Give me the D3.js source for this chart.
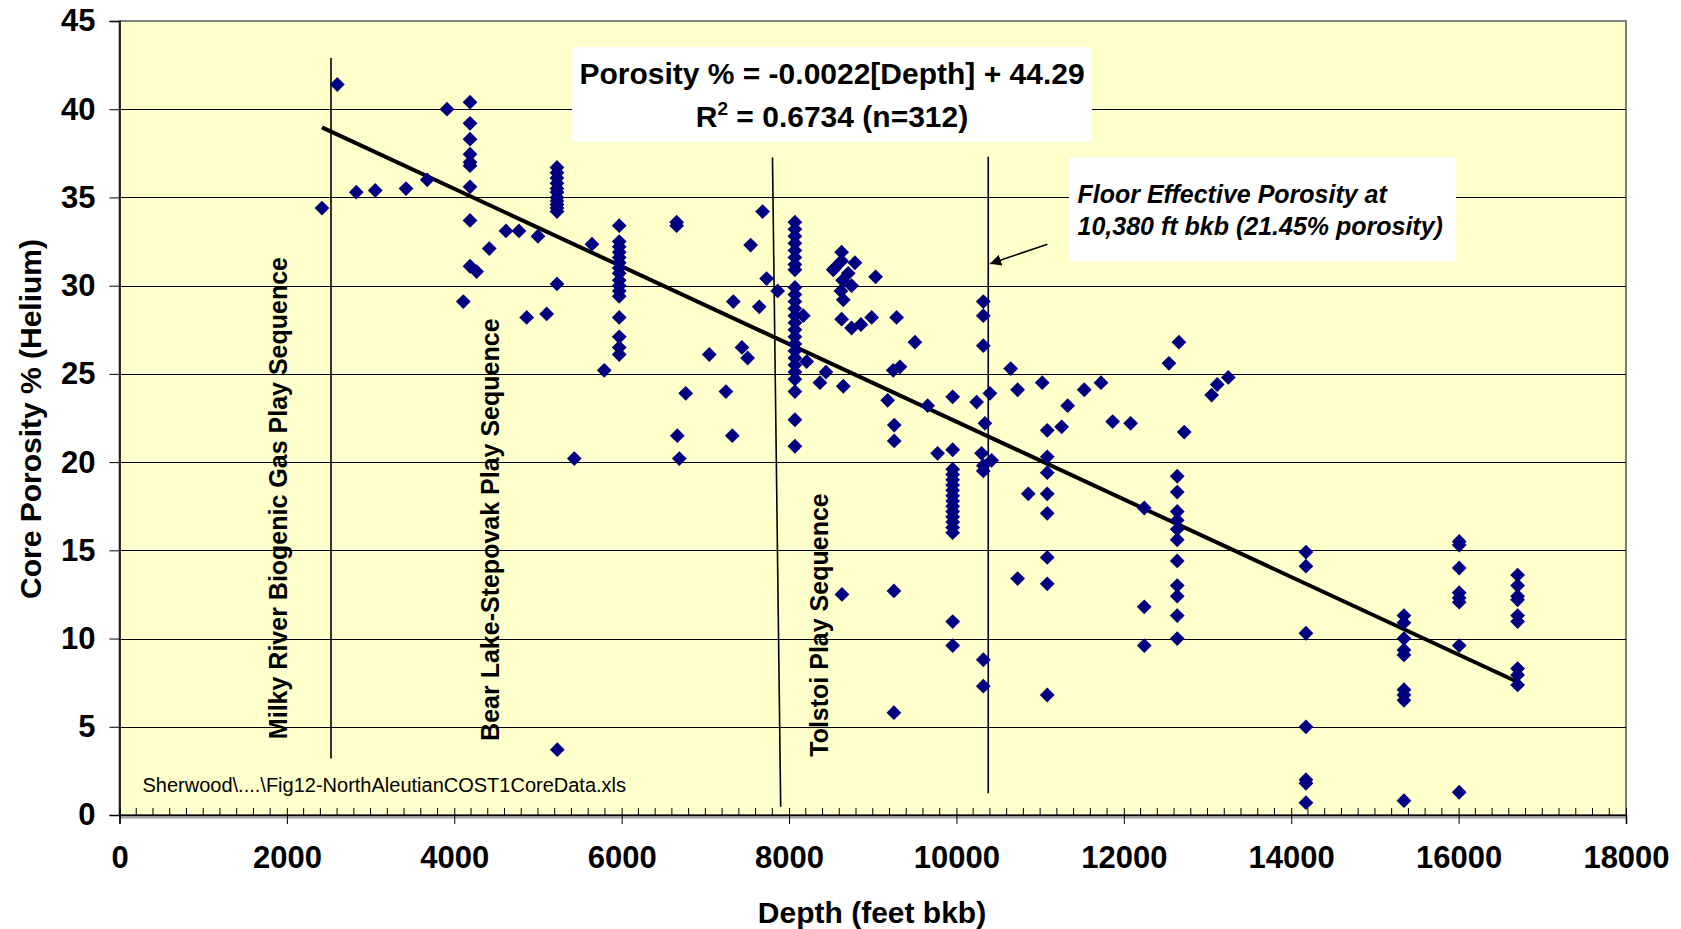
<!DOCTYPE html>
<html>
<head>
<meta charset="utf-8">
<script src="https://cdn.jsdelivr.net/npm/d3@7"></script>
<style>
  html, body { margin: 0; padding: 0; background: #ffffff; }
  svg { display: block; }
  text { font-family: "Liberation Sans", Arial, sans-serif; }
</style>
</head>
<body>
<svg id="chart" width="1681" height="929"></svg>
<script>
// Core porosity (helium) vs depth, North Aleutian COST #1 well
const depthFt = [
  2419, 2602, 2829, 3056, 3423, 3677, 3913,
  4188, 4188, 4188, 4188, 4188, 4188, 4188, 4188, 4188, 4267, 4108,
  4418, 4618, 4773, 5000, 4865, 5104,
  5227, 5227, 5227, 5227, 5227, 5227, 5227, 5227, 5227, 5227, 5227, 5227, 5231,
  5434, 5645, 5792,
  5971, 5971, 5971, 5971, 5971, 5971, 5971, 5971, 5971, 5971, 5971, 5971, 5971, 5971, 5971, 5971,
  6657, 6657, 6765, 6665, 6689, 7047,
  7246, 7322, 7334, 7437, 7505, 7541, 7644, 7684, 7732, 7864,
  8070, 8070, 8070, 8070, 8070, 8070, 8070, 8070, 8070, 8070, 8070, 8070, 8070,
  8070, 8070, 8070, 8070, 8070, 8070, 8070, 8070, 8070, 8070, 8070, 8070,
  8170, 8210, 8441, 8369, 8648,
  8628, 8548, 8628, 8707, 8640, 8747, 8620, 8648, 8787, 8528,
  8628, 8747, 8859, 8987, 9034, 8632,
  9285, 9504, 9245, 9325, 9178, 9257, 9257, 9656, 9775, 9253, 9253,
  9955, 9955, 9955, 9955, 9955, 9955, 9955, 9955, 9955, 9955, 9955, 9955, 9955, 9955, 9955, 9955, 9955,
  10321, 10321, 10321, 10340, 10300, 10420, 10321, 10321, 10321, 10321, 10241, 10400,
  10648, 10731, 10858, 10731, 11025,
  11085, 11085, 11085, 11085, 11085, 11085, 11085, 11085,
  11257, 11329, 11527, 11727, 11866, 12081,
  12244, 12244, 12244,
  12539, 12658, 12722,
  12638, 12638, 12638, 12638, 12638, 12638, 12638, 12638, 12638, 12638, 12638,
  13049, 13116, 13248,
  14176, 14176, 14176, 14176, 14176, 14176, 14176,
  15347, 15347, 15347, 15347, 15347, 15347, 15347, 15347, 15347,
  16007, 16007, 16007, 16007, 16007, 16007, 16007, 16007,
  16705, 16705, 16705, 16705, 16705, 16705, 16705, 16705, 16705
];
const porosityPct = [
  34.4, 41.4, 35.3, 35.4, 35.5, 36.0, 40.0,
  40.4, 39.2, 38.3, 37.45, 37.0, 36.8, 35.6, 33.7, 31.1, 30.8, 29.1,
  32.1, 33.1, 33.1, 32.8, 28.2, 28.4,
  36.7, 36.4, 36.1, 35.8, 35.5, 35.3, 35.0, 34.8, 34.6, 34.4, 34.2, 30.1, 3.7,
  20.2, 32.35, 25.2,
  33.4, 32.5, 32.2, 31.9, 31.6, 31.3, 31.0, 30.7, 30.3, 30.0, 29.7, 29.4, 28.2, 27.1, 26.5, 26.1,
  33.6, 33.4, 23.9, 21.5, 20.2, 26.1,
  24.0, 21.5, 29.1, 26.5, 25.9, 32.3, 28.8, 34.2, 30.4, 29.7,
  33.6, 33.2, 32.8, 32.4, 32.0, 31.6, 31.2, 30.9, 29.9, 29.5, 29.1, 28.7, 28.3,
  27.9, 27.5, 27.1, 26.7, 26.3, 25.9, 25.5, 25.1, 24.7, 24.0, 22.4, 20.9,
  28.3, 25.7, 25.1, 24.5, 24.3,
  31.9, 31.0, 31.4, 30.7, 30.3, 30.0, 29.7, 29.2, 31.3, 30.9,
  28.1, 27.6, 27.8, 28.2, 30.5, 12.5,
  28.2, 26.8, 25.2, 25.4, 23.5, 22.1, 21.2, 23.2, 20.5, 12.7, 5.8,
  23.7, 20.7, 19.6, 19.3, 19.0, 18.7, 18.4, 18.1, 17.8, 17.5, 17.2, 16.9, 16.6, 16.3, 16.0, 10.96, 9.6,
  29.1, 28.3, 26.6, 22.2, 20.5, 20.1, 19.8, 19.5, 8.8, 7.3, 23.4, 23.9,
  25.3, 24.1, 18.2, 13.4, 24.5,
  21.8, 20.3, 19.4, 18.2, 17.1, 14.6, 13.1, 6.8,
  22.0, 23.2, 24.1, 24.5, 22.3, 22.2,
  17.4, 11.8, 9.6,
  25.6, 26.8, 21.7,
  19.2, 18.3, 17.2, 16.7, 16.2, 15.6, 14.4, 13.0, 12.4, 11.3, 10.0,
  23.8, 24.4, 24.8,
  14.9, 14.1, 10.3, 5.0, 2.0, 1.8, 0.7,
  11.3, 10.9, 10.0, 9.35, 9.07, 7.1, 6.8, 6.5, 0.81,
  15.5, 15.3, 14.0, 12.6, 12.3, 12.06, 9.6, 1.29,
  13.6, 13.0, 12.4, 12.2, 11.3, 10.96, 8.3, 7.94, 7.37
];

// Axis ticks
const xTickValues = [0, 2000, 4000, 6000, 8000, 10000, 12000, 14000, 16000, 18000];
const yTickValues = [0, 5, 10, 15, 20, 25, 30, 35, 40, 45];

// Least-squares fit reported on the chart
const fitSlope = -0.0022;
const fitIntercept = 44.29;
const fitR2 = "0.6734";
const sampleCount = 312;

// Play sequence boundaries and labels (depth ft, porosity %)
const boundaryLines = [
  { x1: 2527, y1: 42.9, x2: 2527, y2: 3.2 },
  { x1: 7802, y1: 37.27, x2: 7900, y2: 0.47 },
  { x1: 10380, y1: 37.3, x2: 10380, y2: 1.23 }
];
const sequenceLabels = [
  { text: "Milky River Biogenic Gas Play Sequence", depth: 2000, por: 4.3 },
  { text: "Bear Lake-Stepovak Play Sequence", depth: 4538, por: 4.2 },
  { text: "Tolstoi Play Sequence", depth: 8468, por: 3.3 }
];
const floorDepth = 10380;
const floorPorosity = 21.45;

const svg = d3.select("#chart");
const margin = { left: 119.5, right: 1626, top: 21, bottom: 815 };

const x = d3.scaleLinear().domain([0, 18000]).range([margin.left, margin.right]);
const y = d3.scaleLinear().domain([0, 45]).range([margin.bottom, margin.top]);

// Plot area
svg.append("rect")
  .attr("x", margin.left).attr("y", margin.top)
  .attr("width", margin.right - margin.left)
  .attr("height", margin.bottom - margin.top)
  .attr("fill", "#FFFFCC")
  .attr("stroke", "#808080")
  .attr("stroke-width", 2);

// Shadow under the depth axis
svg.append("line")
  .attr("x1", margin.left).attr("x2", margin.right + 1)
  .attr("y1", margin.bottom + 2.5).attr("y2", margin.bottom + 2.5)
  .attr("stroke", "#a0a0a0").attr("stroke-width", 2);

// Horizontal gridlines
svg.append("g")
  .selectAll("line")
  .data(yTickValues.filter(v => v > 0 && v < 45))
  .join("line")
  .attr("x1", margin.left).attr("x2", margin.right)
  .attr("y1", d => Math.round(y(d)) + 0.5).attr("y2", d => Math.round(y(d)) + 0.5)
  .attr("stroke", "#000000")
  .attr("stroke-width", 1);

// Y axis
const yAxis = d3.axisLeft(y).tickValues(yTickValues).tickSize(10).tickPadding(14)
  .tickFormat(d3.format("d"));
const gy = svg.append("g").attr("transform", `translate(${margin.left},0)`).call(yAxis);
gy.select(".domain").attr("stroke", "#000").attr("stroke-width", 1.5);
gy.selectAll(".tick line").attr("stroke", "#000");
gy.selectAll(".tick text")
  .attr("font-family", "'Liberation Sans', Arial, sans-serif")
  .attr("font-size", 31).attr("font-weight", "bold").attr("fill", "#000");

// X axis: minor ticks inward every 200 ft, major ticks crossing
const minorTicks = d3.range(200, 18000, 200).filter(v => v % 2000 !== 0);
svg.append("g")
  .selectAll("line")
  .data(minorTicks)
  .join("line")
  .attr("x1", d => x(d)).attr("x2", d => x(d))
  .attr("y1", margin.bottom).attr("y2", margin.bottom - 7)
  .attr("stroke", "#000").attr("stroke-width", 1);

const xAxis = d3.axisBottom(x).tickValues(xTickValues).tickSize(9).tickPadding(22)
  .tickFormat(d3.format("d"));
const gx = svg.append("g").attr("transform", `translate(0,${margin.bottom})`).call(xAxis);
gx.select(".domain").attr("stroke", "#000").attr("stroke-width", 1.5);
gx.selectAll(".tick line").attr("stroke", "#000").attr("y1", -7);
gx.selectAll(".tick text")
  .attr("font-family", "'Liberation Sans', Arial, sans-serif")
  .attr("font-size", 31).attr("font-weight", "bold").attr("fill", "#000");

// Axis titles
svg.append("text")
  .attr("x", 872).attr("y", 912).attr("dy", "0.35em")
  .attr("text-anchor", "middle")
  .attr("font-size", 30).attr("font-weight", "bold")
  .text("Depth (feet bkb)");

svg.append("text")
  .attr("transform", "translate(30,419) rotate(-90)")
  .attr("dy", "0.35em")
  .attr("text-anchor", "middle")
  .attr("font-size", 30).attr("font-weight", "bold")
  .text("Core Porosity % (Helium)");

// Play sequence boundaries
svg.append("g")
  .selectAll("line")
  .data(boundaryLines)
  .join("line")
  .attr("x1", d => x(d.x1)).attr("y1", d => y(d.y1))
  .attr("x2", d => x(d.x2)).attr("y2", d => y(d.y2))
  .attr("stroke", "#000").attr("stroke-width", 1.6);

// Sequence labels (vertical)
svg.append("g")
  .selectAll("text")
  .data(sequenceLabels)
  .join("text")
  .attr("transform", d => `translate(${x(d.depth)},${y(d.por)}) rotate(-90)`)
  .attr("font-size", 25).attr("font-weight", "bold")
  .text(d => d.text);

// Regression line over the depth range of the samples
const [dMin, dMax] = d3.extent(depthFt);
const fitLine = d3.line().x(d => x(d)).y(d => y(fitSlope * d + fitIntercept));
svg.append("path")
  .attr("d", fitLine([dMin, dMax]))
  .attr("fill", "none")
  .attr("stroke", "#000")
  .attr("stroke-width", 4);

// Samples as navy diamonds
const r = 7.4;
const diamond = `M0,${-r}L${r},0L0,${r}L${-r},0Z`;
svg.append("g")
  .selectAll("path")
  .data(d3.range(depthFt.length))
  .join("path")
  .attr("transform", i => `translate(${x(depthFt[i])},${y(porosityPct[i])})`)
  .attr("d", diamond)
  .attr("fill", "#000080");

// Equation box
const eqBox = svg.append("g");
eqBox.append("rect")
  .attr("x", 572).attr("y", 47).attr("width", 520).attr("height", 95)
  .attr("fill", "#ffffff");
eqBox.append("text")
  .attr("x", 832).attr("y", 83.5)
  .attr("text-anchor", "middle")
  .attr("font-size", 30).attr("font-weight", "bold")
  .text(`Porosity % = ${fitSlope}[Depth] + ${fitIntercept}`);
const r2Text = eqBox.append("text")
  .attr("x", 832).attr("y", 127)
  .attr("text-anchor", "middle")
  .attr("font-size", 30).attr("font-weight", "bold");
r2Text.append("tspan").text("R");
r2Text.append("tspan").attr("dy", -12).attr("font-size", 19).text("2");
r2Text.append("tspan").attr("dy", 12).text(` = ${fitR2} (n=${sampleCount})`);

// Floor effective porosity callout
const floorBox = svg.append("g");
floorBox.append("rect")
  .attr("x", 1069).attr("y", 157.5).attr("width", 387).attr("height", 104)
  .attr("fill", "#ffffff");
floorBox.append("text")
  .attr("x", 1077.5).attr("y", 203)
  .attr("font-size", 25).attr("font-weight", "bold").attr("font-style", "italic")
  .text("Floor Effective Porosity at");
floorBox.append("text")
  .attr("x", 1077.5).attr("y", 234.5)
  .attr("font-size", 25).attr("font-weight", "bold").attr("font-style", "italic")
  .text(`${d3.format(",")(floorDepth)} ft bkb (${floorPorosity}% porosity)`);

// Arrow pointing at the floor depth line
svg.append("defs").append("marker")
  .attr("id", "arrowHead")
  .attr("viewBox", "0 0 10 10")
  .attr("refX", 10).attr("refY", 5)
  .attr("markerWidth", 7).attr("markerHeight", 7)
  .attr("markerUnits", "strokeWidth")
  .attr("orient", "auto")
  .append("path").attr("d", "M0,0L10,5L0,10Z").attr("fill", "#000");
svg.append("line")
  .attr("x1", x(11087)).attr("y1", y(32.35))
  .attr("x2", x(10400)).attr("y2", y(31.24))
  .attr("stroke", "#000").attr("stroke-width", 1.6)
  .attr("marker-end", "url(#arrowHead)");

// Source file note
svg.append("text")
  .attr("x", 142.5).attr("y", 791.5)
  .attr("font-size", 20)
  .text("Sherwood\\....\\Fig12-NorthAleutianCOST1CoreData.xls");
</script>
</body>
</html>
